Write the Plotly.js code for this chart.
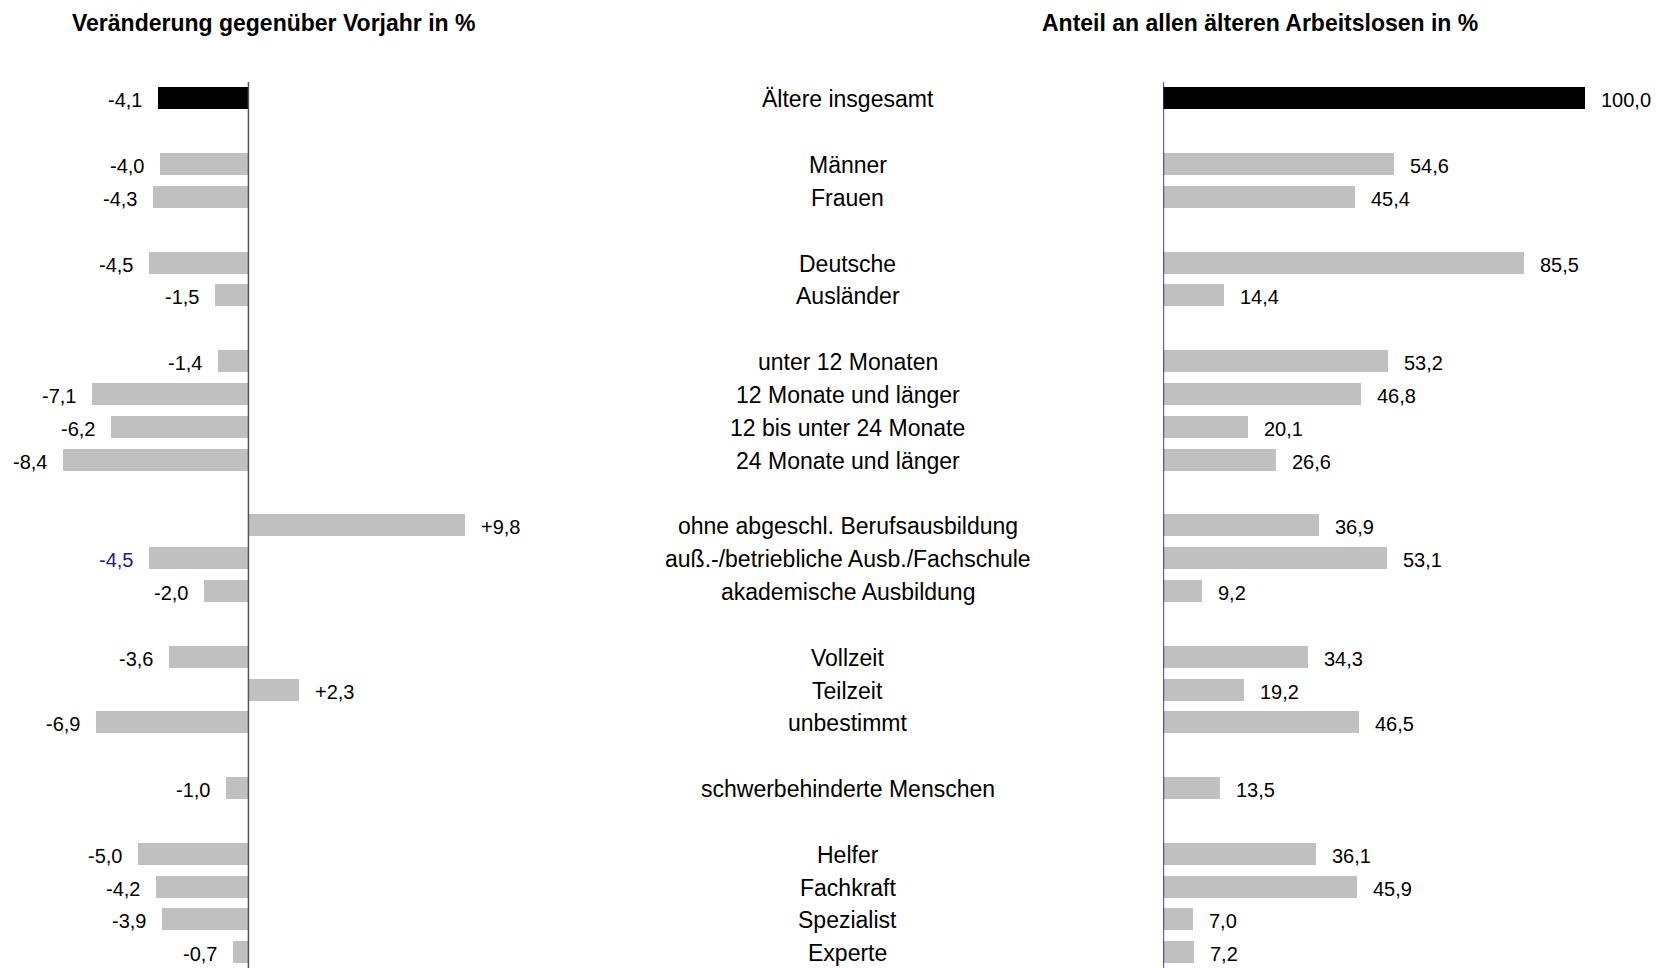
<!DOCTYPE html>
<html>
<head>
<meta charset="utf-8">
<script src="https://cdn.plot.ly/plotly-3.0.1.min.js"></script>
<style>html,body{margin:0;padding:0;background:#fff;}#chart{width:1657px;height:968px;}</style>
</head>
<body>
<div id="chart"></div>
<script>
// Category groups (a blank row separates groups)
const groups = [
  ["Ältere insgesamt"],
  ["Männer", "Frauen"],
  ["Deutsche", "Ausländer"],
  ["unter 12 Monaten", "12 Monate und länger", "12 bis unter 24 Monate", "24 Monate und länger"],
  ["ohne abgeschl. Berufsausbildung", "auß.-/betriebliche Ausb./Fachschule", "akademische Ausbildung"],
  ["Vollzeit", "Teilzeit", "unbestimmt"],
  ["schwerbehinderte Menschen"],
  ["Helfer", "Fachkraft", "Spezialist", "Experte"]
];
// Veränderung gegenüber Vorjahr in %
const changePct = [-4.1, -4.0, -4.3, -4.5, -1.5, -1.4, -7.1, -6.2, -8.4, 9.8, -4.5, -2.0, -3.6, 2.3, -6.9, -1.0, -5.0, -4.2, -3.9, -0.7];
// Anteil an allen älteren Arbeitslosen in %
const sharePct = [100.0, 54.6, 45.4, 85.5, 14.4, 53.2, 46.8, 20.1, 26.6, 36.9, 53.1, 9.2, 34.3, 19.2, 46.5, 13.5, 36.1, 45.9, 7.0, 7.2];
const titleLeft = "Veränderung gegenüber Vorjahr in %";
const titleRight = "Anteil an allen älteren Arbeitslosen in %";

// Build rows: flat category list and row positions with a blank row between groups
const categories = [];
const rowPos = [];
let r = 0;
groups.forEach((g, gi) => {
  if (gi > 0) r += 1;
  g.forEach(c => { categories.push(c); rowPos.push(r); r += 1; });
});

const fmt = (v, plus) => (plus && v > 0 ? "+" : "") + v.toFixed(1).replace(".", ",");
const FONT = "Liberation Sans, Arial, sans-serif";
const barColors = categories.map((c, i) => i === 0 ? "#000000" : "#c0c0c0");

const traces = [
  {
    type: "bar", orientation: "h", x: changePct, y: rowPos, width: 0.67,
    marker: {color: barColors}, xaxis: "x", yaxis: "y", hoverinfo: "skip"
  },
  {
    type: "bar", orientation: "h", x: sharePct, y: rowPos, width: 0.67,
    marker: {color: barColors}, xaxis: "x2", yaxis: "y", hoverinfo: "skip"
  }
];

const annotations = [];
categories.forEach((c, i) => {
  annotations.push({
    x: 0.5116, xref: "paper", y: rowPos[i], yref: "y", text: c, showarrow: false,
    xanchor: "center", yanchor: "middle", yshift: -1, font: {family: FONT, size: 23, color: "#000"}
  });
  const v = changePct[i];
  annotations.push({
    x: v, xref: "x", y: rowPos[i], yref: "y", text: fmt(v, true), showarrow: false,
    xanchor: v < 0 ? "right" : "left", xshift: v < 0 ? -14 : 14, yanchor: "middle", yshift: -2,
    font: {family: FONT, size: 20, color: i === 10 ? "#1a1a8c" : "#000"}
  });
  annotations.push({
    x: sharePct[i], xref: "x2", y: rowPos[i], yref: "y", text: fmt(sharePct[i], false), showarrow: false,
    xanchor: "left", xshift: 14, yanchor: "middle", yshift: -2,
    font: {family: FONT, size: 20, color: "#000"}
  });
});
annotations.push({
  x: 0.1652, xref: "paper", y: 1.0664, yref: "paper", text: "<b>" + titleLeft + "</b>", showarrow: false,
  xanchor: "center", yanchor: "middle", font: {family: FONT, size: 23, color: "#000"}
});
annotations.push({
  x: 0.7606, xref: "paper", y: 1.0664, yref: "paper", text: "<b>" + titleRight + "</b>", showarrow: false,
  xanchor: "center", yanchor: "middle", font: {family: FONT, size: 23, color: "#000"}
});

const layout = {
  width: 1657, height: 968,
  margin: {l: 0, r: 0, t: 82, b: 0, pad: 0},
  paper_bgcolor: "#fff", plot_bgcolor: "#fff",
  showlegend: false, bargap: 0,
  font: {family: FONT, size: 20, color: "#000"},
  xaxis: {domain: [0, 0.29], range: [-11.24, 10.5], visible: false, fixedrange: true},
  xaxis2: {domain: [0.7021, 0.9947], range: [0, 115], visible: false, fixedrange: true},
  yaxis: {range: [26.48, -0.5], visible: false, fixedrange: true},
  shapes: [
    {type: "line", xref: "x", yref: "paper", x0: 0, x1: 0, y0: 0, y1: 1, line: {color: "#555555", width: 1.5}},
    {type: "line", xref: "x2", yref: "paper", x0: 0, x1: 0, y0: 0, y1: 1, line: {color: "#000080", width: 1.5}}
  ],
  annotations: annotations
};

Plotly.newPlot("chart", traces, layout, {displayModeBar: false, staticPlot: true});
</script>
</body>
</html>
